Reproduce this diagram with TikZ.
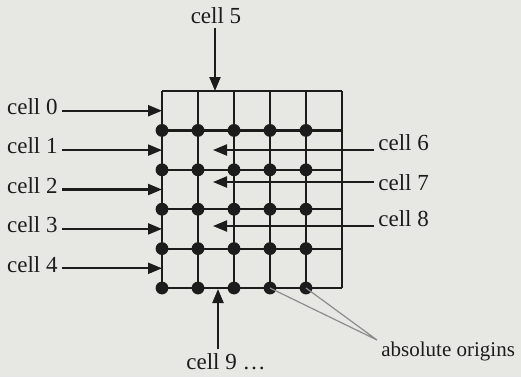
\documentclass[tikz,border=0pt]{standalone}
\usepackage{fontspec}
\setmainfont{Liberation Serif}
\usetikzlibrary{arrows.meta,positioning,calc}
\definecolor{lgPaper}{HTML}{E7E7E4}
\definecolor{lgInk}{HTML}{1C1C1C}
\definecolor{lgGray}{HTML}{8C8C8C}

\begin{document}
\begin{tikzpicture}[x=0.5pt, y=-0.5pt, >={Triangle[length=7pt,width=5.5pt]},
    font=\fontsize{11.5}{13}\selectfont,
    lbl/.style={inner sep=2pt, text=lgInk},
    ptr/.style={->, lgInk, line width=1.1pt},
    gridline/.style={lgInk, line width=1.1pt}]
    % ── paper and frame ───────────────────────────────────────────────────
    \fill[lgPaper] (0,0) rectangle (521,377);
    \useasboundingbox (0,0) rectangle (521,377);

    % ── cell lattice: 5 x 5 cells, corners g<i><j> ─────────────────────────
    \foreach \i in {0,...,5}
      \foreach \j in {0,...,5}
        \coordinate (g\i\j) at ({162+36*\i},{91+39.4*\j});
    \foreach \i in {0,...,5} \draw[gridline] (g\i0) -- (g\i5);
    \foreach \j in {0,...,5} \draw[gridline] (g0\j) -- (g5\j);

    % ── absolute origins: lower-left corner of every cell ─────────────────
    \foreach \i in {0,...,4}
      \foreach \j in {1,...,5}
        \fill[lgInk] (g\i\j) circle (3.2pt);

    % ── cells 0--4 enter from the left ────────────────────────────────────
    \foreach \k in {0,...,4} {
      \coordinate (m\k) at ({162},{110.7+39.4*\k});
      \node[lbl, anchor=east] (c\k) at ({62},{106.7+39.4*\k}) {cell \k};
      \draw[ptr] (c\k.east |- m\k) -- (m\k);
    }

    % ── cell 5 from the top ───────────────────────────────────────────────
    \coordinate (t5) at (215,91);
    \node[lbl] (c5) at (216,16) {cell 5};
    \draw[ptr] (c5.south -| t5) -- (t5);

    % ── cells 6--8 from the right, into the second column ────────────────
    \coordinate (t6) at (213,150);
    \coordinate (t7) at (213,182);
    \coordinate (t8) at (213,226);
    \node[lbl, anchor=west] (c6) at (374,143) {cell 6};
    \node[lbl, anchor=west] (c7) at (374,183) {cell 7};
    \node[lbl, anchor=west] (c8) at (374,219) {cell 8};
    \draw[ptr] (c6.west |- t6) -- (t6);
    \draw[ptr] (c7.west |- t7) -- (t7);
    \draw[ptr] (c8.west |- t8) -- (t8);

    % ── cell 9 and onward from below ──────────────────────────────────────
    \coordinate (t9) at (218,289);
    \node[lbl] (c9) at (226,362) {cell 9 \dots};
    \draw[ptr] (c9.north -| t9) -- (t9);

    % ── callout for the origin dots ───────────────────────────────────────
    \coordinate (meet) at (377,340);
    \node[lbl, anchor=west, font=\fontsize{10.5}{12}\selectfont] (ao) at (377,351) {absolute origins};
    \draw[lgGray, line width=0.6pt] (g35) -- (meet) -- (g45);
\end{tikzpicture}
\end{document}
